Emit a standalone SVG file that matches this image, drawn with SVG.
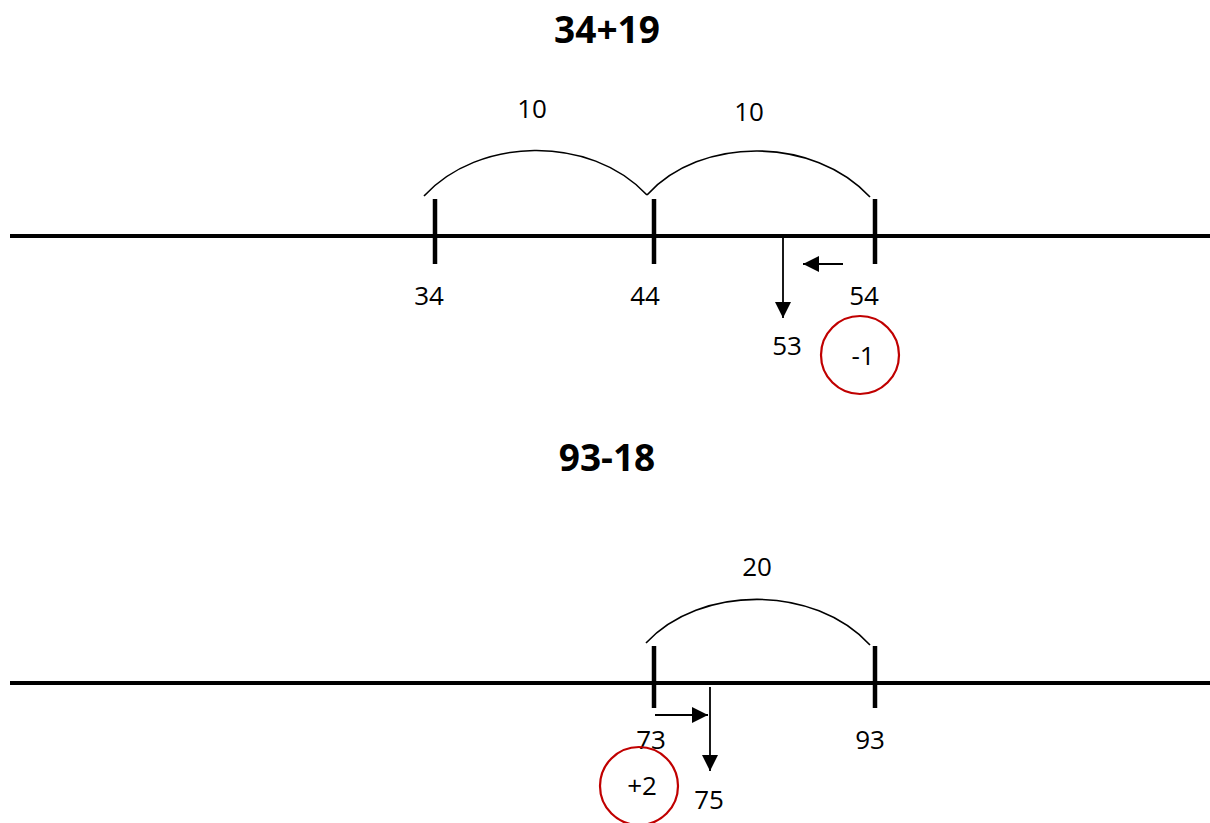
<svg xmlns="http://www.w3.org/2000/svg" width="1210" height="823" viewBox="0 0 1210 823">
  <style>
    .axis { stroke: #000; stroke-width: 4; fill: none; }
    .tick { stroke: #000; stroke-width: 4.5; fill: none; }
    .jump { stroke: #000; stroke-width: 1.6; fill: none; }
    .step { stroke: #000; stroke-width: 1.8; fill: none; }
    .ring { stroke: #c00000; stroke-width: 2.2; fill: none; }
    .num { font-family: "Open Sans", "Noto Sans", sans-serif; font-size: 26px; fill: #000; text-anchor: middle; }
    .title { font-family: "Open Sans", "Noto Sans", sans-serif; font-size: 37px; font-weight: bold; fill: #000; text-anchor: middle; }
  </style>
  <defs>
    <marker id="headBig" viewBox="0 0 10 10" refX="10" refY="5" markerWidth="16" markerHeight="16" markerUnits="userSpaceOnUse" orient="auto">
      <path d="M0,0 L10,5 L0,10 Z" fill="#000"/>
    </marker>
  </defs>
  <rect width="1210" height="823" fill="#fff"/>

  <!-- 34+19 -->
  <g id="title-add"><text class="title" x="607" y="43">34+19</text></g>
  <g id="line-add">
    <line class="axis" x1="10" y1="236" x2="1210" y2="236"/>
  </g>
  <g id="tick-34"><line class="tick" x1="435" y1="199" x2="435" y2="264"/><text class="num" x="429" y="305">34</text></g>
  <g id="tick-44"><line class="tick" x1="654" y1="199" x2="654" y2="264"/><text class="num" x="645" y="305">44</text></g>
  <g id="tick-54"><line class="tick" x1="875" y1="199" x2="875" y2="264"/><text class="num" x="864" y="305">54</text></g>
  <g id="mark-53"><text class="num" x="787" y="355">53</text></g>
  <g id="jump-label-1"><text class="num" x="532" y="118">10</text></g>
  <g id="jump-label-2"><text class="num" x="749" y="121">10</text></g>
  <g id="adjust-minus1">
    <circle class="ring" cx="860" cy="355" r="39"/>
    <text class="num" x="863" y="365">-1</text>
  </g>

  <!-- 93-18 -->
  <g id="title-sub"><text class="title" x="607" y="471">93-18</text></g>
  <g id="line-sub">
    <line class="axis" x1="10" y1="683" x2="1210" y2="683"/>
  </g>
  <g id="tick-73"><line class="tick" x1="654" y1="646" x2="654" y2="708"/><text class="num" x="651" y="749">73</text></g>
  <g id="tick-93"><line class="tick" x1="875" y1="646" x2="875" y2="708"/><text class="num" x="870" y="749">93</text></g>
  <g id="mark-75"><text class="num" x="709" y="809">75</text></g>
  <g id="jump-label-3"><text class="num" x="757" y="576">20</text></g>
  <g id="adjust-plus2">
    <circle class="ring" cx="639" cy="786" r="39"/>
    <text class="num" x="642" y="795">+2</text>
  </g>

  <!-- connectors: jumps and steps -->
  <g id="connectors">
    <path class="jump" d="M424,196 C478,137 590,134 647,195"/>
    <path class="jump" d="M647,195 C700,136 814,136 870,197"/>
    <path class="step" d="M783,237 L783,318" marker-end="url(#headBig)"/>
    <path class="step" d="M843,264 L803,264" marker-end="url(#headBig)"/>

    <path class="jump" d="M646,643 C700,585 814,584 870,645"/>
    <path class="step" d="M655,715 L708,715" marker-end="url(#headBig)"/>
    <path class="step" d="M710,687 L710,771" marker-end="url(#headBig)"/>
  </g>
</svg>
